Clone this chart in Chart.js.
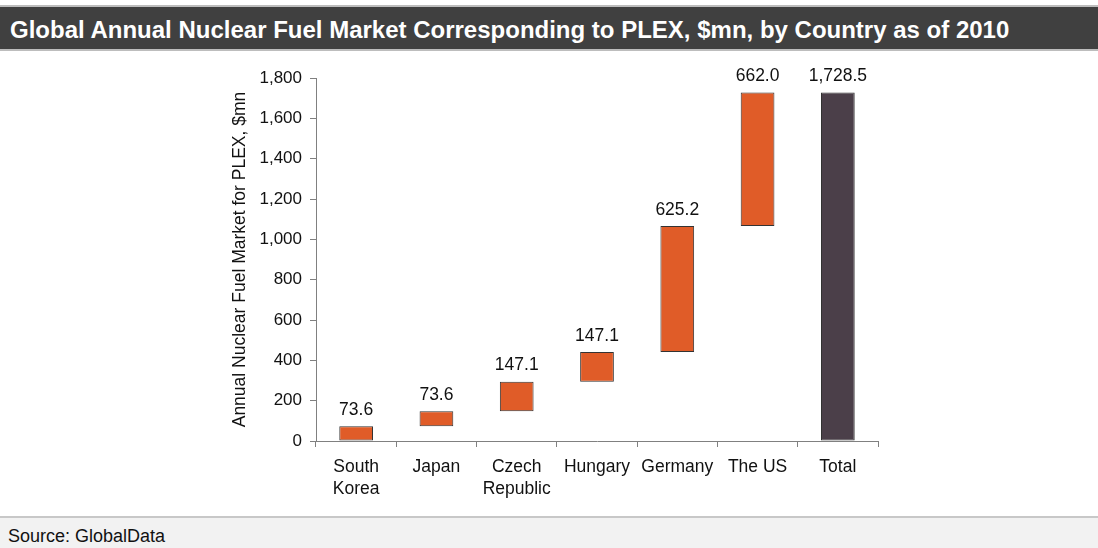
<!DOCTYPE html>
<html>
<head>
<meta charset="utf-8">
<script src="https://cdn.jsdelivr.net/npm/chart.js@4/dist/chart.umd.min.js"></script>
<style>
  html, body { margin: 0; padding: 0; background: #fff; }
  body { width: 1098px; height: 548px; position: relative; overflow: hidden; font-family: "Liberation Sans", Arial, sans-serif; }
  #title { position: absolute; left: 0; top: 5px; width: 1088px; height: 42px; background: #404040; border-top: 2px solid #bdbdbd; border-bottom: 2px solid #bdbdbd; color: #fff; font-weight: bold; font-size: 24px; line-height: 45px; padding-left: 10px; box-sizing: content-box; white-space: nowrap; }
  #footer { position: absolute; left: 0; top: 516px; width: 1090px; height: 30px; background: #f2f2f2; border-top: 2px solid #c8c8c8; color: #111; font-size: 18px; line-height: 37px; padding-left: 8px; white-space: nowrap; }
  #wrap { position: absolute; left: 0; top: 0; width: 1098px; height: 548px; }
</style>
</head>
<body>
<div id="wrap"><canvas id="c" width="1098" height="548"></canvas></div>
<div id="title">Global Annual Nuclear Fuel Market Corresponding to PLEX, $mn, by Country as of 2010</div>
<div id="footer">Source: GlobalData</div>
<script>
const categories = [["South", "Korea"], "Japan", ["Czech", "Republic"], "Hungary", "Germany", "The US", "Total"];
const increments = [73.6, 73.6, 147.1, 147.1, 625.2, 662.0];
const totalValue = 1728.5;
const valueLabels = ["73.6", "73.6", "147.1", "147.1", "625.2", "662.0", "1,728.5"];
const yTicks = [0, 200, 400, 600, 800, 1000, 1200, 1400, 1600, 1800];
const yTitle = "Annual Nuclear Fuel Market for PLEX, $mn";

const floating = [];
let run = 0;
for (const v of increments) { floating.push([run, run + v]); run += v; }
floating.push([0, totalValue]);
const colors = categories.map((c, i) => i === categories.length - 1 ? "#4b3f49" : "#e05c28");
const FONT = "'Liberation Sans', Arial, sans-serif";

const labelPlugin = {
  id: "valueLabels",
  afterDatasetsDraw(chart) {
    const ctx = chart.ctx;
    const meta = chart.getDatasetMeta(0);
    ctx.save();
    ctx.font = "17.5px " + FONT;
    ctx.fillStyle = "#111";
    ctx.textAlign = "center";
    ctx.textBaseline = "middle";
    meta.data.forEach((bar, i) => {
      const top = Math.min(bar.y, bar.base);
      ctx.fillText(valueLabels[i], bar.x, top - 16);
    });
    ctx.restore();
  }
};

new Chart(document.getElementById("c"), {
  type: "bar",
  data: {
    labels: categories,
    datasets: [{
      data: floating,
      backgroundColor: colors,
      borderColor: "#333",
      borderWidth: 1,
      borderSkipped: false,
      barPercentage: 0.42,
      categoryPercentage: 1.0
    }]
  },
  options: {
    responsive: false,
    animation: false,
    layout: { padding: { left: 230, right: 220, top: 78, bottom: 47 } },
    plugins: { legend: { display: false }, tooltip: { enabled: false } },
    scales: {
      x: {
        offset: true,
        grid: { offset: true, drawOnChartArea: false, tickLength: 6, color: "#808080" },
        border: { color: "#808080", width: 1 },
        ticks: { color: "#111", font: { family: FONT, size: 17.5, lineHeight: 1.26 }, padding: 9, maxRotation: 0, autoSkip: false },
        afterFit(s) { s.height = 60; }
      },
      y: {
        min: 0, max: 1800,
        afterBuildTicks(s) { s.ticks = yTicks.map(v => ({ value: v })); },
        grid: { drawOnChartArea: false, tickLength: 6, color: "#808080" },
        border: { color: "#808080", width: 1 },
        ticks: { color: "#111", font: { family: FONT, size: 17 }, padding: 8,
          callback: v => v.toLocaleString("en-US") },
        title: { display: true, text: yTitle, color: "#111", font: { family: FONT, size: 17.5 }, padding: 0 },
        afterFit(s) { s.width = 86; }
      }
    }
  },
  plugins: [labelPlugin]
});
</script>
</body>
</html>
